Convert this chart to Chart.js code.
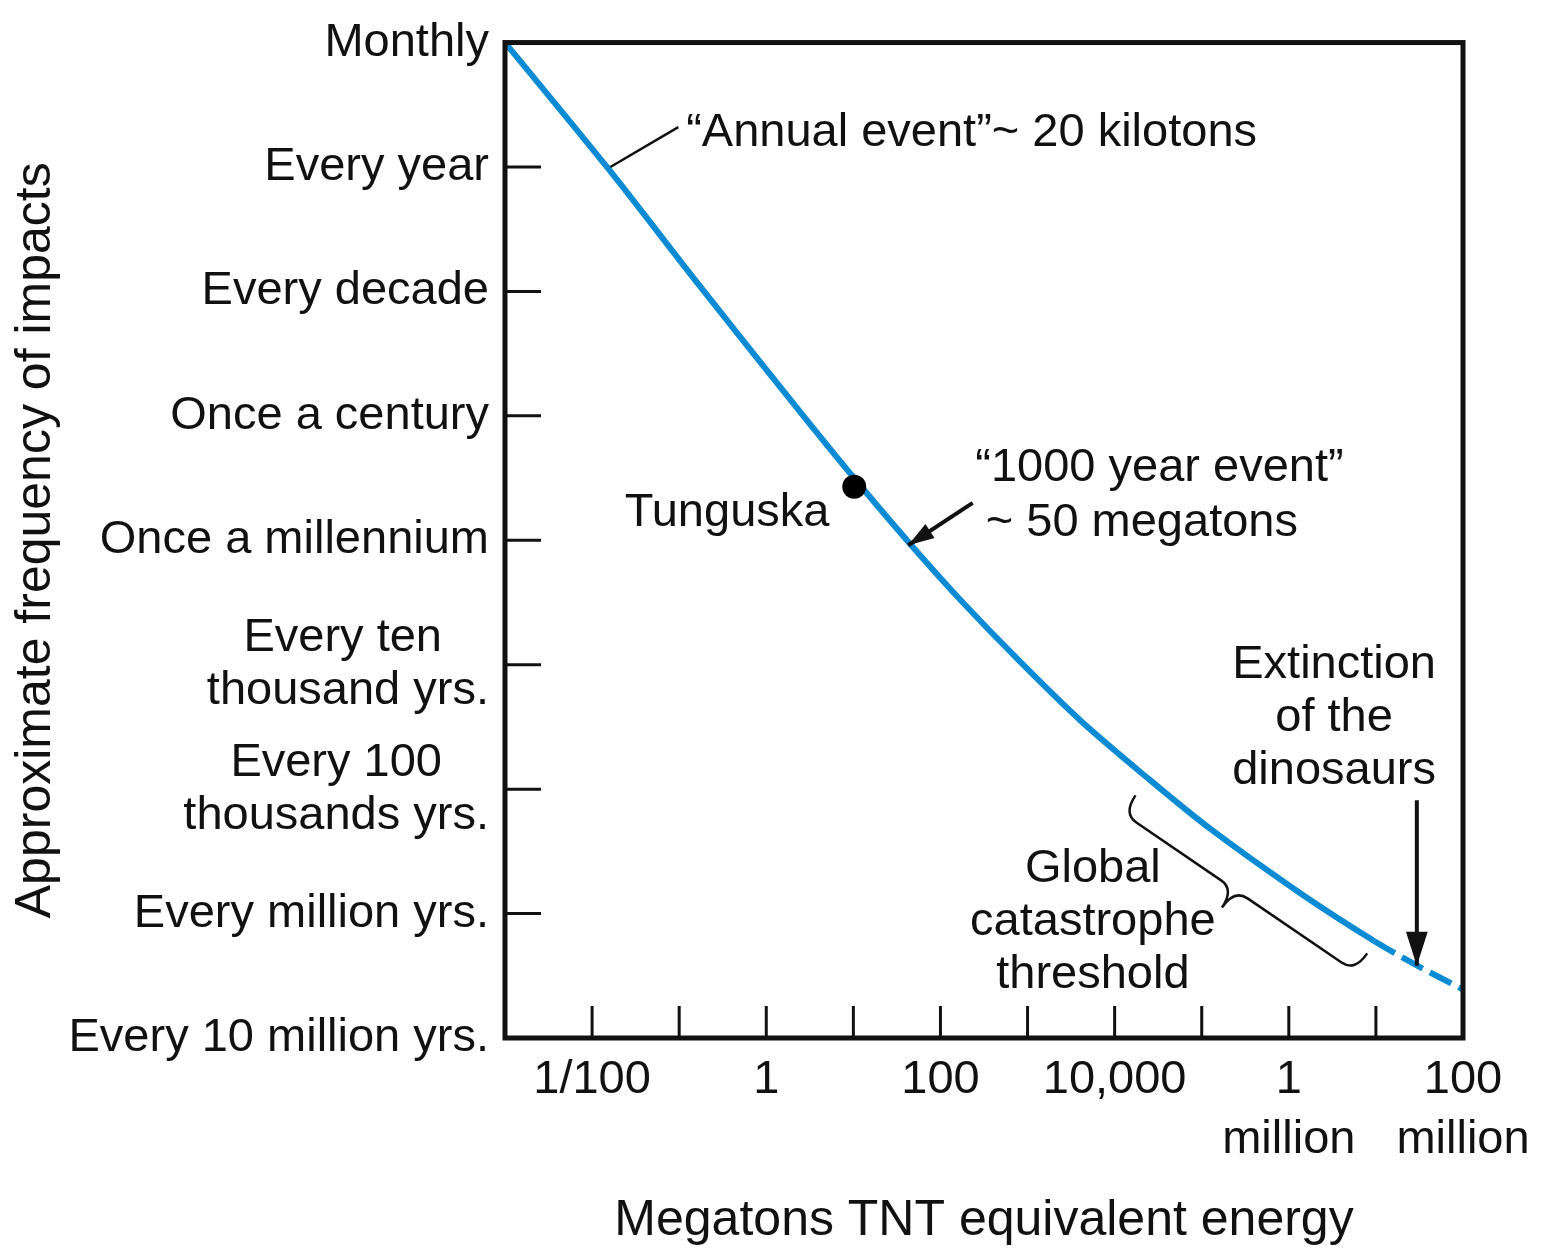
<!DOCTYPE html>
<html>
<head>
<meta charset="utf-8">
<title>Impact frequency vs energy</title>
<script src="https://cdn.jsdelivr.net/npm/chart.js@4.4.0/dist/chart.umd.min.js"></script>
<style>
    html, body { margin: 0; padding: 0; background: #fff; }
    canvas { display: block; }
</style>
</head>
<body>
<canvas id="impacts" width="1543" height="1251"></canvas>
<script>
// x = log10(megatons TNT), y = frequency class (0 = monthly ... 8 = every 10 million yrs)
const energyLog = [-3, -1.83, -0.76, 0.46, 1.08, 1.69, 2.23, 2.92, 3.61, 4.36, 5.10, 6.14, 6.98, 7.48, 8];
const freqIndex = [0, 1.00, 1.96, 3.03, 3.56, 4.06, 4.48, 4.98, 5.45, 5.90, 6.32, 6.84, 7.22, 7.42, 7.61];
const dashedFrom = 6.98;

const tunguskaLog = [1.01];
const tunguskaIndex = [3.57];

const xTickValues = [-2, 0, 2, 4, 6, 8];
const xTickLabels = ['1/100', '1', '100', '10,000', ['1', 'million'], ['100', 'million']];
const xTickMarks = [-2, -1, 0, 1, 2, 3, 4, 5, 6, 7];

const yTickLabels = [
    'Monthly',
    'Every year',
    'Every decade',
    'Once a century',
    'Once a millennium',
    ['Every ten\u2002\u2002', 'thousand yrs.'],
    ['Every 100\u2002\u2002', 'thousands yrs.'],
    'Every million yrs.',
    'Every 10 million yrs.'
];
const yTickMarks = [1, 2, 3, 4, 5, 6, 7];

const BLUE = '#0b8bd3';
const INK = '#111111';
const FONT = "'Liberation Sans', Arial, Helvetica, sans-serif";

// annotations, placed in data units
const notes = [
    {lines: ['\u201CAnnual event\u201D~ 20 kilotons'], x: -0.92, y: 0.73, align: 'left'},
    {lines: ['Tunguska'], x: -0.45, y: 3.78, align: 'center'},
    {lines: ['\u201C1000 year event\u201D'], x: 2.40, y: 3.42, align: 'left'},
    {lines: ['~ 50 megatons'], x: 2.52, y: 3.86, align: 'left'},
    {lines: ['Extinction', 'of the', 'dinosaurs'], x: 6.52, y: 5.00, align: 'center'},
    {lines: ['Global', 'catastrophe', 'threshold'], x: 3.75, y: 6.64, align: 'center'}
];
const leaders = [
    {from: [-1.79, 1.00], to: [-1.01, 0.68], head: 0},
    {from: [2.37, 3.70], to: [1.63, 4.04], head: 26},
    {from: [7.47, 6.09], to: [7.47, 7.42], head: 34}
];
const brace = {from: [4.24, 6.05], to: [6.90, 7.32]};

const points = energyLog.map((x, i) => ({x, y: freqIndex[i]}));
const tunguska = tunguskaLog.map((x, i) => ({x, y: tunguskaIndex[i]}));

Chart.defaults.font.family = FONT;
Chart.defaults.color = INK;

const drawArrowHead = (ctx, x0, y0, x1, y1, len) => {
    const a = Math.atan2(y1 - y0, x1 - x0);
    const w = len * 0.32;

    ctx.beginPath();
    ctx.moveTo(x1, y1);
    ctx.lineTo(x1 - len * Math.cos(a) + w * Math.sin(a), y1 - len * Math.sin(a) - w * Math.cos(a));
    ctx.lineTo(x1 - len * Math.cos(a) - w * Math.sin(a), y1 - len * Math.sin(a) + w * Math.cos(a));
    ctx.closePath();
    ctx.fill();
};

const drawBrace = (ctx, ax, ay, bx, by, depth) => {
    const len = Math.hypot(bx - ax, by - ay);
    const ux = (bx - ax) / len;
    const uy = (by - ay) / len;
    const p = (s, t) => [ax + ux * s - uy * t, ay + uy * s + ux * t];
    const h = depth / 2;
    const r = 16;
    const m = len * 0.48;

    ctx.beginPath();
    ctx.moveTo(...p(0, 0));
    ctx.quadraticCurveTo(...p(0, h), ...p(r, h));
    ctx.lineTo(...p(m - r, h));
    ctx.quadraticCurveTo(...p(m, h), ...p(m, depth));
    ctx.quadraticCurveTo(...p(m, h), ...p(m + r, h));
    ctx.lineTo(...p(len - r, h));
    ctx.quadraticCurveTo(...p(len, h), ...p(len, 0));
    ctx.stroke();
};

const impactDecor = {
    id: 'impactDecor',
    beforeDraw(chart) {
        const {ctx, width, height} = chart;
        ctx.save();
        ctx.fillStyle = '#fff';
        ctx.fillRect(0, 0, width, height);
        ctx.restore();
    },
    afterDatasetsDraw(chart) {
        const {ctx, chartArea: area, scales: {x, y}} = chart;
        const px = v => x.getPixelForValue(v);
        const py = v => y.getPixelForValue(v);

        ctx.save();
        ctx.strokeStyle = INK;
        ctx.fillStyle = INK;
        ctx.lineCap = 'butt';

        // inward tick marks
        ctx.lineWidth = 3;
        ctx.beginPath();
        yTickMarks.forEach(v => {
            ctx.moveTo(area.left, py(v));
            ctx.lineTo(area.left + 36, py(v));
        });
        xTickMarks.forEach(v => {
            ctx.moveTo(px(v), area.bottom);
            ctx.lineTo(px(v), area.bottom - 32);
        });
        ctx.stroke();

        // frame
        ctx.lineWidth = 5;
        ctx.strokeRect(area.left, area.top, area.right - area.left, area.bottom - area.top);

        // leader lines and arrows
        leaders.forEach(l => {
            const x0 = px(l.from[0]);
            const y0 = py(l.from[1]);
            const x1 = px(l.to[0]);
            const y1 = py(l.to[1]);

            ctx.lineWidth = l.head ? 4 : 2.5;
            ctx.beginPath();
            ctx.moveTo(x0, y0);
            ctx.lineTo(x1, y1);
            ctx.stroke();
            if (l.head) {
                drawArrowHead(ctx, x0, y0, x1, y1, l.head);
            }
        });

        ctx.lineWidth = 2.5;
        drawBrace(ctx, px(brace.from[0]), py(brace.from[1]), px(brace.to[0]), py(brace.to[1]), 44);

        // text notes
        ctx.font = '47px ' + FONT;
        ctx.textBaseline = 'middle';
        notes.forEach(n => {
            ctx.textAlign = n.align;
            n.lines.forEach((line, i) => {
                ctx.fillText(line, px(n.x), py(n.y) + i * 53);
            });
        });
        ctx.restore();
    }
};

new Chart(document.getElementById('impacts'), {
    type: 'scatter',
    data: {
        datasets: [{
            data: points,
            showLine: true,
            borderColor: BLUE,
            borderWidth: 6,
            pointRadius: 0,
            tension: 0.3,
            order: 1,
            segment: {
                borderDash: ctx => ctx.p0.parsed.x >= dashedFrom ? [24, 8] : undefined
            }
        }, {
            data: tunguska,
            pointRadius: 12,
            backgroundColor: '#000',
            borderWidth: 0,
            order: 0
        }]
    },
    options: {
        responsive: false,
        animation: false,
        devicePixelRatio: 1,
        events: [],
        layout: {padding: {top: 42, right: 80, bottom: 0, left: 0}},
        plugins: {legend: {display: false}, tooltip: {enabled: false}},
        scales: {
            x: {
                type: 'linear',
                min: -3,
                max: 8,
                grid: {display: false, drawTicks: false},
                border: {display: false},
                ticks: {
                    stepSize: 1,
                    autoSkip: false,
                    maxRotation: 0,
                    padding: 12,
                    font: {size: 47, lineHeight: 1.28},
                    callback: v => {
                        const i = xTickValues.indexOf(v);
                        return i === -1 ? '' : xTickLabels[i];
                    }
                },
                title: {
                    display: true,
                    text: 'Megatons TNT equivalent energy',
                    font: {size: 50, lineHeight: 1.2},
                    padding: {top: 0, bottom: 0}
                },
                afterFit: scale => { scale.height = 213; }
            },
            y: {
                type: 'linear',
                min: 0,
                max: 8,
                reverse: true,
                grid: {display: false, drawTicks: false},
                border: {display: false},
                ticks: {
                    stepSize: 1,
                    autoSkip: false,
                    padding: 16,
                    font: {size: 47, lineHeight: 1.13},
                    callback: v => yTickLabels[v] ?? ''
                },
                title: {
                    display: true,
                    text: 'Approximate frequency of impacts',
                    font: {size: 50, lineHeight: 1.2},
                    padding: {top: 6, bottom: 0}
                },
                afterFit: scale => { scale.width = 505; }
            }
        }
    },
    plugins: [impactDecor]
});
</script>
</body>
</html>
